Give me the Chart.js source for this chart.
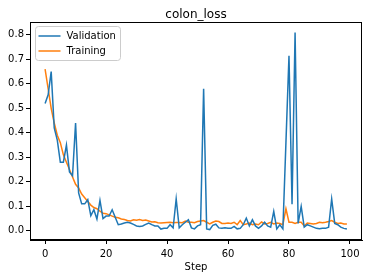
<!DOCTYPE html>
<html>
<head>
<meta charset="utf-8">
<script src="https://cdn.jsdelivr.net/npm/chart.js@4.4.1/dist/chart.umd.min.js"></script>
<style>
    html, body { margin: 0; padding: 0; background: #fff; }
    #wrap { width: 372px; height: 278px; }
</style>
</head>
<body>
<div id="wrap"><canvas id="chartCanvas" width="372" height="278"></canvas></div>
<script>
// Datos del grafico
const steps = [
    0, 1, 2, 3, 4, 5, 6, 7, 8, 9, 10, 11, 12, 13, 14, 15, 16, 17, 18, 19,
    20, 21, 22, 23, 24, 25, 26, 27, 28, 29, 30, 31, 32, 33, 34, 35, 36, 37, 38, 39,
    40, 41, 42, 43, 44, 45, 46, 47, 48, 49, 50, 51, 52, 53, 54, 55, 56, 57, 58, 59,
    60, 61, 62, 63, 64, 65, 66, 67, 68, 69, 70, 71, 72, 73, 74, 75, 76, 77, 78, 79,
    80, 81, 82, 83, 84, 85, 86, 87, 88, 89, 90, 91, 92, 93, 94, 95, 96, 97, 98, 99
];

const validationLoss = [
    0.52, 0.555, 0.65, 0.42, 0.37, 0.28, 0.28, 0.35, 0.24, 0.225,
    0.44, 0.155, 0.11, 0.11, 0.127, 0.062, 0.086, 0.048, 0.124, 0.05,
    0.06, 0.06, 0.086, 0.055, 0.025, 0.028, 0.032, 0.035, 0.032, 0.026,
    0.02, 0.018, 0.02, 0.026, 0.032, 0.025, 0.02, 0.02, 0.007, 0.01,
    0.01, 0.025, 0.012, 0.13, 0.012, 0.025, 0.035, 0.045, 0.012, 0.008,
    0.02, 0.025, 0.58, 0.008, 0.005, 0.022, 0.027, 0.012, 0.01, 0.012,
    0.01, 0.01, 0.018, 0.008, 0.01, 0.025, 0.052, 0.02, 0.045, 0.02,
    0.01, 0.02, 0.035, 0.02, 0.015, 0.079, 0.008, 0.025, 0.008, 0.36,
    0.715, 0.109, 0.81, 0.03, 0.1, 0.015, 0.025, 0.02, 0.015, 0.01,
    0.008, 0.01, 0.01, 0.015, 0.13, 0.03, 0.025, 0.015, 0.01, 0.007
];

const trainingLoss = [
    0.66, 0.58, 0.50, 0.44, 0.39, 0.36, 0.31, 0.28, 0.25, 0.22,
    0.19, 0.175, 0.15, 0.135, 0.12, 0.105, 0.095, 0.09, 0.08, 0.072,
    0.07, 0.065, 0.06, 0.055, 0.053, 0.048, 0.046, 0.042, 0.04, 0.045,
    0.043, 0.046, 0.042, 0.044, 0.04, 0.036, 0.037, 0.033, 0.032, 0.033,
    0.034, 0.035, 0.033, 0.034, 0.034, 0.033, 0.04, 0.035, 0.035, 0.033,
    0.038, 0.04, 0.042, 0.035, 0.028, 0.035, 0.04, 0.038, 0.03, 0.03,
    0.032, 0.03, 0.035, 0.025, 0.042, 0.025, 0.028, 0.032, 0.025, 0.028,
    0.025, 0.036, 0.028, 0.03, 0.035, 0.028, 0.032, 0.03, 0.025, 0.09,
    0.035, 0.035, 0.03, 0.035, 0.035, 0.02, 0.032, 0.03, 0.028, 0.03,
    0.035, 0.033, 0.035, 0.038, 0.042, 0.035, 0.03, 0.032, 0.028, 0.028
];

const xTicks = [0, 20, 40, 60, 80, 100];
const yTicks = [0.0, 0.1, 0.2, 0.3, 0.4, 0.5, 0.6, 0.7, 0.8];

const tickFont = { family: "'DejaVu Sans'", size: 10 };

function toPoints(values) {
    return steps.map((s, i) => ({ x: s, y: values[i] }));
}

// Marco completo del area (estilo matplotlib)
const frameBox = {
    id: 'frameBox',
    afterDatasetsDraw(chart) {
        const { ctx, chartArea: a } = chart;
        ctx.save();
        ctx.strokeStyle = '#000';
        ctx.lineWidth = 1;
        ctx.strokeRect(a.left + 0.5, a.top + 0.5, a.right - a.left - 1, a.bottom - a.top - 1);
        ctx.restore();
    }
};

// Leyenda dentro del grafico
const innerLegend = {
    id: 'innerLegend',
    afterDraw(chart) {
        const { ctx, chartArea: a } = chart;
        const x = a.left + 5.5;
        const y = a.top + 4.5;
        const w = 85;
        const h = 34;
        ctx.save();
        ctx.beginPath();
        ctx.roundRect(x, y, w, h, 3);
        ctx.fillStyle = 'rgba(255,255,255,0.8)';
        ctx.fill();
        ctx.strokeStyle = '#cccccc';
        ctx.lineWidth = 1;
        ctx.stroke();

        ctx.font = "10px 'DejaVu Sans'";
        ctx.textBaseline = 'middle';
        chart.data.datasets.forEach((ds, i) => {
            const rowY = y + 9.5 + i * 15;
            ctx.strokeStyle = ds.borderColor;
            ctx.lineWidth = 1.5;
            ctx.beginPath();
            ctx.moveTo(x + 3, rowY);
            ctx.lineTo(x + 25, rowY);
            ctx.stroke();
            ctx.fillStyle = '#000';
            ctx.fillText(ds.label, x + 31, rowY);
        });
        ctx.restore();
    }
};

const chartCanvas = document.getElementById('chartCanvas');

new Chart(chartCanvas, {
    type: 'line',
    data: {
        datasets: [{
            label: 'Validation',
            data: toPoints(validationLoss),
            borderColor: '#1f77b4',
            borderWidth: 1.5,
            tension: 0,
            pointRadius: 0,
            fill: false
        }, {
            label: 'Training',
            data: toPoints(trainingLoss),
            borderColor: '#ff7f0e',
            borderWidth: 1.5,
            tension: 0,
            pointRadius: 0,
            fill: false
        }]
    },
    options: {
        responsive: false,
        animation: false,
        layout: { padding: { left: 0, right: 10, top: 0, bottom: 0 } },
        plugins: {
            legend: { display: false },
            tooltip: { enabled: false },
            title: {
                display: true,
                text: 'colon_loss',
                fullSize: false,
                color: '#000',
                font: { family: "'DejaVu Sans'", size: 12, weight: 'normal', lineHeight: 1.2 },
                padding: { top: 7.5, bottom: 0.1 }
            }
        },
        scales: {
            x: {
                type: 'linear',
                min: -4.95,
                max: 103.95,
                afterBuildTicks: (scale) => { scale.ticks = xTicks.map(v => ({ value: v })); },
                afterFit: (scale) => { scale.height = 38; },
                grid: { display: true, drawOnChartArea: false, drawTicks: true, tickLength: 4, color: '#000' },
                border: { display: true, color: '#000' },
                ticks: { color: '#000', font: tickFont, padding: 4, maxRotation: 0, autoSkip: false },
                title: {
                    display: true,
                    text: 'Step',
                    color: '#000',
                    font: { family: "'DejaVu Sans'", size: 10, lineHeight: 1.2 },
                    padding: { top: 0, bottom: 5 }
                }
            },
            y: {
                type: 'linear',
                min: -0.0375,
                max: 0.8525,
                afterBuildTicks: (scale) => { scale.ticks = yTicks.map(v => ({ value: v })); },
                afterFit: (scale) => { scale.width = 30; },
                grid: { display: true, drawOnChartArea: false, drawTicks: true, tickLength: 4, color: '#000' },
                border: { display: true, color: '#000' },
                ticks: {
                    color: '#000',
                    font: tickFont,
                    padding: 2,
                    autoSkip: false,
                    callback: (value) => value.toFixed(1)
                }
            }
        }
    },
    plugins: [frameBox, innerLegend]
});
</script>
</body>
</html>
